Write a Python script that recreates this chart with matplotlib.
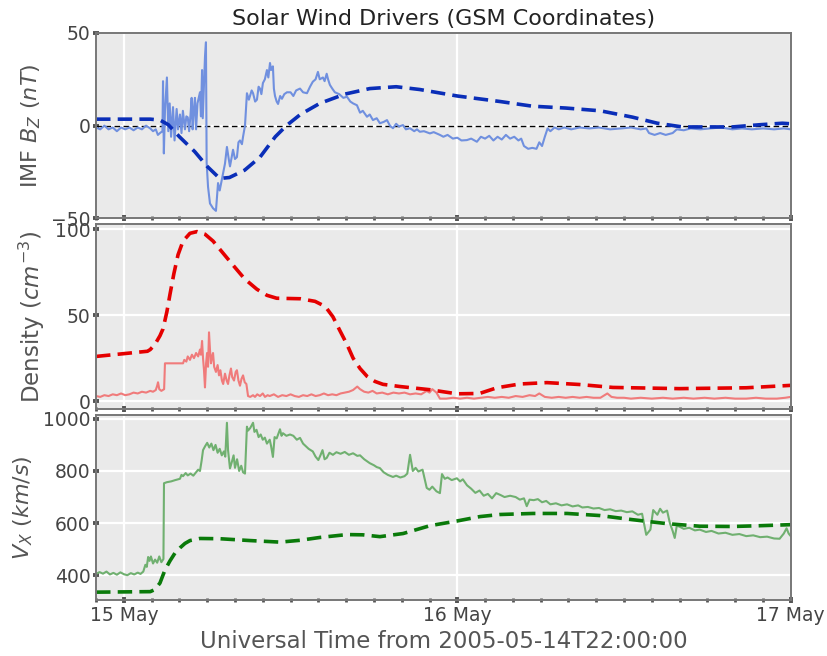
import numpy as np
import pandas as pd
import matplotlib
matplotlib.use("Agg")
import matplotlib.pyplot as plt
import matplotlib.dates as mdates

# Data: (hours after 2005-05-14T22:00:00, value)
start = pd.Timestamp("2005-05-14 22:00:00")
end = pd.Timestamp("2005-05-17 00:00:00")

bz_obs = [(0, -1), (0.3, -2), (0.6, 0), (0.9, -2), (1.2, -1), (1.5, -3), (1.8, -1), (2.1, -2),
          (2.4, -1), (2.7, -2.5), (3.0, -1), (3.3, -2), (3.6, 0), (3.9, -1.5), (4.1, -3),
          (4.3, -2), (4.45, -5), (4.6, -4), (4.78, -3), (4.82, 24), (4.88, -15), (4.96, 8),
          (5.1, 26), (5.2, -3), (5.3, 12), (5.4, -6), (5.54, 10), (5.65, -8), (5.8, 9),
          (5.9, -2), (6.04, 6), (6.15, -4), (6.25, 8), (6.4, -2), (6.5, 5), (6.6, 4.5),
          (6.7, -3), (6.8, 6), (6.88, 15), (6.95, -2), (7.05, 10), (7.12, 15), (7.2, -2),
          (7.3, 12), (7.48, 18), (7.55, 5), (7.63, 30), (7.68, 4), (7.84, 37), (7.91, 45),
          (7.96, -20), (8.06, -33), (8.2, -42), (8.42, -44.6), (8.63, -46), (8.78, -31),
          (8.9, -35), (9.06, -29), (9.28, -20.5), (9.42, -11.5), (9.55, -18), (9.64, -22),
          (9.86, -13), (10.0, -18), (10.14, -17), (10.25, -9), (10.36, -8), (10.5, -10),
          (10.58, -6), (10.72, 0), (10.86, 17.5), (11.0, 14), (11.08, 16), (11.2, 19),
          (11.3, 17.5), (11.45, 13), (11.58, 14), (11.7, 21), (11.8, 20), (11.9, 17),
          (12.01, 23), (12.15, 25), (12.3, 30), (12.4, 26), (12.52, 33.8), (12.6, 30),
          (12.73, 32), (12.8, 20), (12.88, 16), (13.0, 13), (13.1, 11.7), (13.25, 16),
          (13.38, 14.5), (13.55, 17), (13.74, 18), (14.0, 18), (14.2, 16), (14.4, 19),
          (14.68, 20), (14.9, 18), (15.18, 17.5), (15.4, 21), (15.6, 23.7), (15.8, 25),
          (15.97, 29), (16.1, 25), (16.33, 26), (16.45, 24), (16.6, 28), (16.7, 25),
          (16.83, 22), (17.0, 20), (17.19, 18), (17.5, 17), (17.8, 15), (18.06, 15.6),
          (18.3, 13), (18.5, 12), (18.78, 11), (19.0, 7), (19.2, 8), (19.5, 4.8), (19.7, 6),
          (19.93, 3), (20.2, 4), (20.43, 1.3), (20.7, 2), (20.94, 3), (21.15, 0),
          (21.37, -1.4), (21.6, 1), (21.8, -0.5), (22.09, 0.3), (22.3, -2), (22.59, -1.4),
          (22.9, -3), (23.1, -2), (23.3, -3.3), (23.6, -3), (24.03, -4.2), (24.3, -3.5),
          (24.75, -5), (25.0, -6), (25.3, -5), (25.68, -7), (26.0, -6.5), (26.3, -8),
          (26.69, -7.8), (27.0, -7), (27.41, -8.7), (27.7, -6), (28.0, -7), (28.3, -5.5),
          (28.6, -8), (28.9, -6), (29.2, -7.5), (29.5, -5), (29.8, -7), (30.1, -6),
          (30.4, -8), (30.6, -7), (30.8, -11), (31.1, -12.5), (31.4, -12), (31.7, -12.5),
          (31.9, -9), (32.1, -11), (32.3, -6), (32.5, -1.5), (32.7, -3), (33.0, -1),
          (33.3, -2), (33.7, -1), (34.2, -2), (34.8, -1), (35.5, -1.5), (36.2, -1),
          (37.0, -2), (37.8, -1.5), (38.5, -1), (39.2, -2), (39.6, -1.5), (39.8, -4),
          (40.2, -5), (40.6, -4), (41.0, -5), (41.5, -4), (41.8, -2), (42.3, -2.5),
          (42.8, -1.5), (43.5, -2), (44.2, -1.5), (45.0, -1), (45.8, -2), (46.5, -1.5),
          (47.2, -2), (48.0, -1.5), (48.8, -2), (49.5, -1.5), (50.0, -2)]

bz_mod = [(0, 3.5), (3.9, 3.5), (4.6, 3), (5.2, 0.5), (6.0, -6), (7.1, -14), (8.0, -22),
          (8.9, -28.5), (9.6, -28), (10.7, -24), (11.8, -17), (12.9, -6), (13.7, 0),
          (14.7, 6), (16.1, 12), (17.9, 17), (19.7, 20), (21.6, 21), (23.3, 19.5),
          (26.0, 16), (29.1, 13), (31.4, 10.5), (33.8, 9.5), (36.3, 8), (38.6, 4.6),
          (40.4, 1.3), (42.2, -0.7), (45.8, -0.7), (47.8, 0.5), (49.4, 1.3), (50.0, 1)]

den_obs = [(0, 3), (0.3, 2.5), (0.6, 3.5), (0.9, 3), (1.2, 4), (1.5, 3.5), (1.8, 4.5),
           (2.1, 3.5), (2.4, 4), (2.7, 5), (3.0, 4.5), (3.3, 5.5), (3.6, 5), (3.9, 6),
           (4.1, 5.5), (4.3, 6.5), (4.4, 9), (4.46, 11), (4.55, 7), (4.7, 6), (4.9, 7),
           (4.96, 22), (6.26, 22), (6.35, 24), (6.5, 23), (6.6, 26), (6.76, 24), (6.9, 27),
           (7.05, 25), (7.2, 28), (7.35, 26), (7.48, 30), (7.55, 27), (7.63, 35), (7.7, 25),
           (7.77, 18), (7.84, 8), (7.92, 22), (7.99, 28), (8.06, 20), (8.13, 40), (8.2, 30),
           (8.27, 22), (8.35, 26), (8.42, 28), (8.5, 20), (8.63, 17), (8.75, 21),
           (8.85, 15), (8.95, 18), (9.06, 12), (9.15, 10), (9.28, 16), (9.4, 12), (9.5, 10),
           (9.6, 15), (9.71, 19), (9.8, 14), (9.93, 12), (10.05, 17), (10.14, 18),
           (10.25, 12), (10.36, 9), (10.47, 13), (10.58, 15), (10.7, 11), (10.82, 10),
           (10.94, 3), (11.1, 2.5), (11.3, 3.5), (11.44, 2.5), (11.6, 4), (11.8, 3),
           (12.0, 4.5), (12.16, 2.5), (12.35, 3.5), (12.5, 3), (12.8, 4), (13.1, 2.5),
           (13.4, 3.5), (13.7, 3), (14.0, 4), (14.3, 3), (14.6, 2.5), (14.9, 3.5), (15.2, 3),
           (15.5, 4), (15.8, 3), (16.1, 3.5), (16.4, 4.5), (16.7, 3.5), (17.0, 4),
           (17.3, 3.5), (17.6, 4.5), (17.9, 5), (18.2, 5.5), (18.5, 6.5), (18.8, 8.5),
           (19.0, 7), (19.3, 5.5), (19.6, 5), (19.9, 6), (20.2, 4.5), (20.6, 5), (21.0, 4),
           (21.4, 5), (21.8, 4.5), (22.2, 5), (22.6, 4), (23.0, 4.5), (23.4, 4),
           (23.8, 6), (24.0, 5), (24.2, 7), (24.5, 5), (24.75, 1.5), (25.2, 1.5), (25.7, 2),
           (26.2, 1.5), (26.7, 2), (27.2, 1.5), (27.7, 2), (28.2, 2.5), (28.7, 2),
           (29.2, 2.5), (29.7, 2), (30.2, 3), (30.7, 2.5), (31.2, 3.5), (31.6, 3),
           (31.9, 4.5), (32.3, 2.5), (32.8, 2), (33.3, 2.5), (33.8, 2), (34.3, 2.5),
           (34.8, 2), (35.3, 2.5), (35.8, 2), (36.3, 2), (36.8, 4.5), (37.1, 2.5),
           (37.5, 2), (38.0, 2), (38.5, 1.5), (39.2, 2), (40.0, 1.5), (40.8, 2),
           (41.5, 1.5), (42.3, 2), (43.0, 1.5), (43.8, 2), (44.5, 1.5), (45.3, 2),
           (46.0, 1.5), (46.8, 1.5), (47.5, 2), (48.2, 1.5), (49.0, 1.5), (49.6, 2),
           (50.0, 2.5)]

den_mod = [(0, 26), (3.7, 29), (3.9, 30), (4.24, 33), (4.6, 38), (4.82, 42), (5.1, 52),
           (5.32, 62), (5.6, 74), (5.9, 85), (6.26, 93), (6.76, 97.5), (7.27, 98.5),
           (7.84, 97), (8.42, 93), (9.14, 86), (9.86, 79), (10.7, 71), (11.58, 65),
           (12.3, 61.5), (13.0, 59.8), (14.7, 59.5), (15.76, 58), (16.5, 55), (17.05, 49),
           (17.55, 41), (18.06, 33), (18.5, 25), (19.0, 19), (19.5, 14.5), (20.07, 11.5),
           (20.65, 9.8), (21.9, 8.5), (24.0, 6.7), (25.97, 4.3), (27.6, 4.5), (28.85, 7.8),
           (30.5, 10), (32.45, 10.8), (34.8, 9.7), (37.2, 8), (42.0, 7.3), (46.8, 7.8),
           (50.0, 9.2)]

vx_obs = [(0, 405), (0.25, 412), (0.5, 406), (0.75, 414), (1.0, 403), (1.25, 409),
          (1.5, 402), (1.75, 411), (2.0, 404), (2.25, 400), (2.5, 408), (2.75, 403),
          (3.0, 410), (3.2, 405), (3.4, 414), (3.55, 440), (3.65, 432), (3.75, 470),
          (3.85, 455), (3.95, 472), (4.1, 445), (4.25, 460), (4.4, 448), (4.55, 472),
          (4.7, 450), (4.85, 462), (4.89, 753), (5.1, 757), (5.4, 760), (5.7, 765),
          (6.04, 770), (6.15, 785), (6.26, 780), (6.45, 792), (6.6, 783), (6.8, 790),
          (7.0, 782), (7.2, 795), (7.35, 805), (7.48, 800), (7.6, 840), (7.7, 880),
          (7.85, 895), (8.0, 908), (8.15, 890), (8.3, 905), (8.45, 880), (8.6, 900),
          (8.75, 870), (8.9, 885), (9.05, 860), (9.2, 875), (9.3, 855), (9.42, 985),
          (9.5, 880), (9.64, 810), (9.75, 830), (9.9, 860), (10.0, 812), (10.15, 845),
          (10.3, 800), (10.45, 820), (10.58, 795), (10.72, 790), (10.86, 970),
          (10.94, 955), (11.1, 965), (11.3, 985), (11.4, 950), (11.55, 958), (11.7, 930),
          (11.85, 940), (12.0, 920), (12.15, 928), (12.3, 905), (12.5, 920), (12.6, 895),
          (12.73, 854), (12.85, 930), (13.0, 925), (13.24, 960), (13.35, 935),
          (13.45, 945), (13.7, 935), (13.96, 940), (14.2, 935), (14.45, 920), (14.68, 927),
          (14.9, 905), (15.1, 895), (15.3, 885), (15.6, 875), (15.8, 855), (16.0, 842),
          (16.15, 860), (16.3, 880), (16.45, 845), (16.6, 850), (16.8, 870), (17.05, 862),
          (17.3, 872), (17.6, 866), (17.9, 873), (18.2, 862), (18.5, 868), (18.8, 858),
          (19.0, 860), (19.3, 845), (19.7, 830), (20.0, 822), (20.2, 815), (20.43, 811),
          (20.7, 795), (21.0, 785), (21.37, 777), (21.6, 782), (21.9, 775), (22.2, 780),
          (22.4, 790), (22.6, 862), (22.7, 830), (22.8, 800), (23.0, 812), (23.2, 798),
          (23.5, 805), (23.65, 770), (23.8, 735), (24.0, 728), (24.2, 740), (24.5, 722),
          (24.75, 715), (24.9, 788), (25.1, 770), (25.3, 775), (25.6, 765), (25.97, 772),
          (26.2, 760), (26.4, 768), (26.7, 745), (27.0, 732), (27.3, 716), (27.6, 725),
          (27.9, 705), (28.2, 712), (28.5, 695), (28.8, 715), (29.1, 708), (29.4, 700),
          (29.8, 705), (30.2, 700), (30.5, 690), (30.8, 695), (31.0, 665), (31.2, 690),
          (31.5, 688), (31.8, 692), (32.1, 680), (32.4, 685), (32.7, 672), (33.1, 676),
          (33.5, 668), (33.9, 672), (34.3, 664), (34.7, 668), (35.0, 660), (35.4, 662),
          (35.8, 656), (36.2, 658), (36.6, 650), (37.0, 653), (37.4, 646), (37.8, 648),
          (38.2, 642), (38.6, 645), (39.0, 632), (39.3, 636), (39.6, 555), (39.9, 575),
          (40.1, 650), (40.4, 632), (40.6, 655), (40.8, 640), (41.1, 648), (41.3, 600),
          (41.5, 570), (41.65, 543), (41.8, 590), (42.0, 586), (42.3, 578), (42.7, 582),
          (43.1, 572), (43.45, 575), (43.9, 566), (44.3, 570), (44.8, 560), (45.3, 563),
          (45.8, 555), (46.3, 558), (46.8, 550), (47.3, 553), (47.8, 546), (48.3, 548),
          (48.8, 541), (49.2, 540), (49.5, 560), (49.7, 580), (49.85, 560), (50.0, 550)]

vx_mod = [(0, 335), (3.9, 337), (4.24, 345), (4.6, 370), (4.96, 420), (5.32, 455),
          (5.68, 485), (6.04, 505), (6.4, 522), (6.76, 533), (7.48, 541), (8.92, 540),
          (11.08, 533), (13.24, 527), (14.68, 534), (16.12, 545), (18.06, 556),
          (19.2, 555), (20.43, 548), (22.1, 560), (24.03, 590), (25.97, 608),
          (27.63, 625), (29.06, 633), (31.44, 637), (33.9, 637), (36.26, 629),
          (38.63, 613), (41.08, 598), (43.45, 588), (45.83, 587), (47.77, 590),
          (50.0, 594)]


def series(pairs):
    h, v = zip(*pairs)
    return start + pd.to_timedelta(np.array(h), unit="h"), np.array(v)


fig, axes = plt.subplots(3, 1, figsize=(8.28, 6.56), dpi=100, sharex=True)
fig.subplots_adjust(left=0.116, right=0.955, top=0.9497, bottom=0.0854, hspace=0.03)

tick_col = "#555555"
for ax in axes:
    ax.set_facecolor("#EAEAEA")
    ax.grid(True, color="white", lw=1.6)
    ax.set_axisbelow(True)
    for s in ax.spines.values():
        s.set_color("#777777")
        s.set_linewidth(1.4)
    ax.tick_params(axis="both", which="major", direction="inout", length=4,
                   width=2.8, color=tick_col, labelsize=13.5, labelcolor="#444444", pad=2)
    ax.tick_params(axis="x", which="minor", direction="inout", length=3, width=2,
                   color=tick_col)

# IMF Bz
ax = axes[0]
ax.axhline(0, color="k", lw=1.0, dashes=(4, 2.5), zorder=1.5)
ax.plot(*series(bz_obs), color="#7090df", lw=1.5)
ax.plot(*series(bz_mod), color="#0a2eb8", lw=2.6, dashes=(4, 2))
ax.set_ylim(-50, 50)
ax.set_yticks([-50, 0, 50])
ax.set_ylabel(r"IMF $B_Z$ $(nT)$", fontsize=16, color="#555555", labelpad=6)
ax.set_title("Solar Wind Drivers (GSM Coordinates)", fontsize=16, color="#222222", pad=6)

# Density
ax = axes[1]
ax.plot(*series(den_obs), color="#f07b7b", lw=1.5)
ax.plot(*series(den_mod), color="#e50000", lw=2.6, dashes=(4, 2))
ax.set_ylim(-4.6, 103)
ax.set_yticks([0, 50, 100])
ax.set_ylabel(r"Density $(cm^{-3})$", fontsize=16.5, color="#555555", labelpad=6)

# Vx
ax = axes[2]
ax.plot(*series(vx_obs), color="#70b070", lw=1.5)
ax.plot(*series(vx_mod), color="#0a7a0a", lw=2.6, dashes=(4, 2))
ax.set_ylim(305, 1016)
ax.set_yticks([400, 600, 800, 1000])
ax.set_ylabel(r"$V_X$ $(km/s)$", fontsize=16, color="#555555", labelpad=6)
ax.set_xlabel("Universal Time from 2005-05-14T22:00:00", fontsize=16.5, color="#555555")

ax.set_xlim(start, end)
ax.xaxis.set_major_locator(mdates.DayLocator())
ax.xaxis.set_major_formatter(mdates.DateFormatter("%d %b"))
ax.xaxis.set_minor_locator(mdates.HourLocator(byhour=range(0, 24, 2)))

fig.savefig("out.png", dpi=100)
